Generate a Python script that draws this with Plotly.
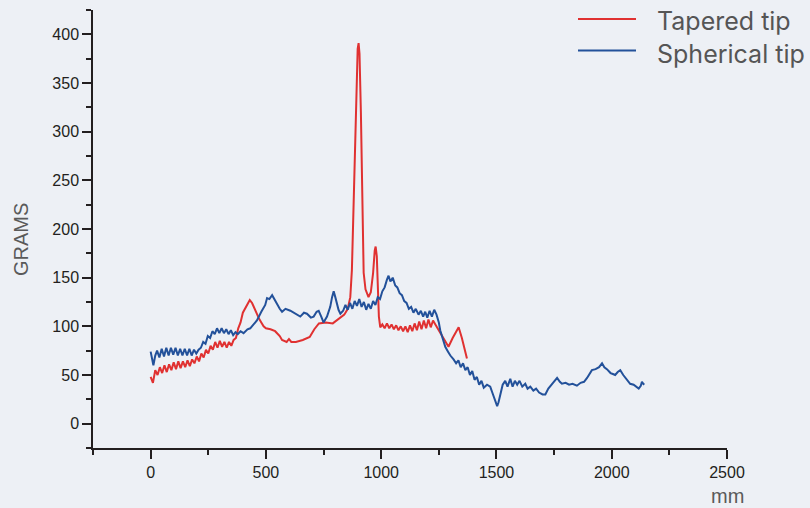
import plotly.graph_objects as go

# ---- data ----
tapered_x = [0, 10, 20, 30, 40, 50, 60, 70, 80, 90, 100, 110, 120, 130, 140, 150, 160, 170, 180, 190,
             200, 210, 220, 230, 240, 250, 260, 270, 280, 290, 300, 310, 320, 330, 340, 350, 360, 370, 380, 390,
             400, 410, 420, 430, 440, 450, 460, 470, 480, 490, 500, 520, 540, 560, 570, 590, 600, 610, 630, 660,
             690, 710, 730, 760, 790, 820, 840, 855, 866, 873, 880, 890, 898, 902, 906, 912, 918, 924, 932, 945,
             955, 965, 972, 976, 981, 986, 990, 996, 1005, 1015, 1025, 1035, 1045, 1055, 1065, 1075, 1085, 1095,
             1105, 1115, 1125, 1135, 1145, 1155, 1165, 1175, 1185, 1195, 1205, 1215, 1225, 1235, 1250, 1270, 1292,
             1310, 1336, 1350, 1360, 1372]
tapered_y = [48, 42, 55, 50, 58, 52, 60, 53, 61, 55, 63, 56, 64, 57, 64, 58, 65, 59, 66, 62,
             69, 64, 72, 68, 76, 72, 80, 76, 84, 78, 85, 79, 84, 78, 84, 80, 86, 88, 98, 104,
             114, 118, 122, 127, 124, 118, 112, 108, 104, 100, 98, 97, 95, 90, 86, 84, 87, 84, 84, 86,
             89, 97, 103, 104, 103, 108, 112, 118, 130, 158, 230, 330, 385, 391, 380, 320, 250, 155, 138, 130,
             135, 155, 178, 182, 172, 135, 110, 99, 102, 98, 103, 98, 102, 97, 101, 96, 100, 95,
             100, 94, 101, 95, 103, 96, 105, 97, 106, 98, 107, 99, 106, 102, 96, 88, 79,
             88, 99, 88, 78, 67]

spherical_x = [0, 5, 12, 20, 28, 38, 48, 58, 68, 78, 88, 98, 108, 118, 128, 138, 148, 158, 168, 178,
               188, 198, 208, 218, 228, 238, 248, 258, 268, 278, 288, 298, 308, 318, 328, 338, 348, 358, 368, 378,
               390, 403, 420, 432, 445, 461, 480, 497, 505, 515, 527, 538, 548, 560, 570, 585, 606, 625, 649, 665,
               678, 695, 707, 720, 729, 740, 750, 765, 779, 787, 794, 801, 808, 815, 823, 835, 845, 855, 865, 875,
               885, 895, 905, 915, 925, 935, 945, 955, 965, 975, 985, 995, 1005, 1015, 1025, 1032, 1040, 1050, 1061,
               1070, 1080, 1090, 1100, 1110, 1120, 1130, 1140, 1150, 1162, 1172, 1182, 1191, 1200, 1210, 1220, 1230,
               1240, 1250, 1256, 1265, 1278, 1290, 1300, 1314, 1325, 1335, 1345, 1355, 1365, 1375, 1385, 1395, 1405,
               1415, 1425, 1435, 1445, 1459, 1473, 1485, 1495, 1503, 1509, 1517, 1527, 1538, 1548, 1560, 1570, 1580,
               1590, 1600, 1612, 1625, 1635, 1647, 1660, 1672, 1685, 1700, 1712, 1725, 1740, 1752, 1763, 1775, 1784,
               1800, 1815, 1830, 1849, 1865, 1880, 1893, 1905, 1914, 1930, 1945, 1958, 1968, 1979, 1995, 2005, 2015,
               2026, 2037, 2050, 2065, 2080, 2095, 2117, 2126, 2131, 2137, 2141]
spherical_y = [74, 68, 60, 70, 75, 68, 77, 69, 78, 70, 78, 71, 78, 70, 77, 70, 77, 70, 77, 70,
               76, 72, 76, 78, 84, 82, 90, 88, 95, 92, 98, 93, 98, 93, 97, 92, 96, 91, 94, 92,
               95, 93, 97, 98, 102, 106, 115, 122, 129, 128, 132, 127, 123, 118, 115, 118, 116, 113, 110, 114,
               113, 109, 110, 115, 116, 110, 104, 110, 120, 130, 136, 130, 123, 117, 113, 116, 122, 117, 124, 118,
               126, 121, 128, 120, 125, 117, 123, 118, 126, 122, 130, 128, 136, 140, 148, 152, 146, 150, 142,
               140, 134, 132, 126, 124, 118, 120, 114, 118, 112, 116, 110, 115, 109, 116, 110, 117,
               112, 104, 96, 88, 79, 74, 70, 66, 62, 65, 58, 62, 55, 58, 50, 54, 45,
               48, 40, 44, 37, 40, 38, 30, 24, 18, 22, 30, 40, 44, 38, 46, 38, 44,
               40, 44, 38, 41, 36, 38, 34, 36, 32, 30, 30, 36, 40, 44, 47, 43, 41,
               42, 40, 41, 39, 42, 43, 47, 52, 55, 56, 58, 62, 58, 56, 52, 51, 50,
               53, 55, 50, 45, 41, 40, 36, 39, 43, 41, 40]

series_names = ["Tapered tip", "Spherical tip"]
series_colors = ["#e03131", "#23519a"]

x_ticks = [0, 500, 1000, 1500, 2000, 2500]
y_ticks = [0, 50, 100, 150, 200, 250, 300, 350, 400]

BG = "#edf0f5"
AXC = "#231f20"

fig = go.Figure()
fig.add_trace(go.Scatter(x=tapered_x, y=tapered_y, mode="lines", name=series_names[0],
                         line=dict(color=series_colors[0], width=2), showlegend=False))
fig.add_trace(go.Scatter(x=spherical_x, y=spherical_y, mode="lines", name=series_names[1],
                         line=dict(color=series_colors[1], width=2), showlegend=False))

axis_common = dict(showgrid=False, zeroline=False, showline=True, linecolor=AXC, linewidth=1.5,
                   ticks="outside", tickcolor=AXC, tickwidth=1.5, ticklen=9,
                   tickfont=dict(family="Liberation Sans, Arial", size=16, color=AXC),
                   mirror=False)

fig.update_xaxes(range=[-250, 2500], tickvals=x_ticks, ticktext=[str(v) for v in x_ticks],
                 minor=dict(dtick=250, tick0=0, ticks="outside", ticklen=5, tickcolor=AXC, tickwidth=1.5),
                 **axis_common)
fig.update_yaxes(range=[-25, 425], tickvals=y_ticks, ticktext=[str(v) for v in y_ticks],
                 minor=dict(dtick=25, tick0=0, ticks="outside", ticklen=5, tickcolor=AXC, tickwidth=1.5),
                 **axis_common)

# custom legend (long line samples like the reference)
for i, (nm, col) in enumerate(zip(series_names, series_colors)):
    ly = 19 if i == 0 else 50.5
    ty = 21 if i == 0 else 54
    fig.add_shape(type="line", xref="paper", yref="paper",
                  x0=(578 - 93) / 634, x1=(636 - 93) / 634,
                  y0=(448 - ly) / 438, y1=(448 - ly) / 438,
                  line=dict(color=col, width=1.8))
    fig.add_annotation(xref="paper", yref="paper", x=(655 - 93) / 634,
                       y=(448 - ty) / 438,
                       text=nm, showarrow=False, xanchor="left", yanchor="middle",
                       font=dict(family="Inter, Roboto, sans-serif", size=25, color="#555555"))

# axis titles
fig.add_annotation(xref="paper", yref="paper", x=(21 - 93) / 634, y=(448 - 240) / 438,
                   text="GRAMS", textangle=-90, showarrow=False, xanchor="center", yanchor="middle",
                   font=dict(family="Liberation Sans, Arial", size=20, color="#5a5a5a"))
fig.add_annotation(xref="paper", yref="paper", x=(727 - 93) / 634, y=(448 - 496) / 438,
                   text="mm", showarrow=False, xanchor="center", yanchor="middle",
                   font=dict(family="Liberation Sans, Arial", size=20, color="#5a5a5a"))

fig.update_layout(width=810, height=508, margin=dict(l=93, r=83, t=10, b=60),
                  paper_bgcolor=BG, plot_bgcolor=BG, showlegend=False)

fig.write_html("out.html", config={"displayModeBar": False},
               post_script="document.body.style.margin='0';document.body.style.background='%s';" % BG)
